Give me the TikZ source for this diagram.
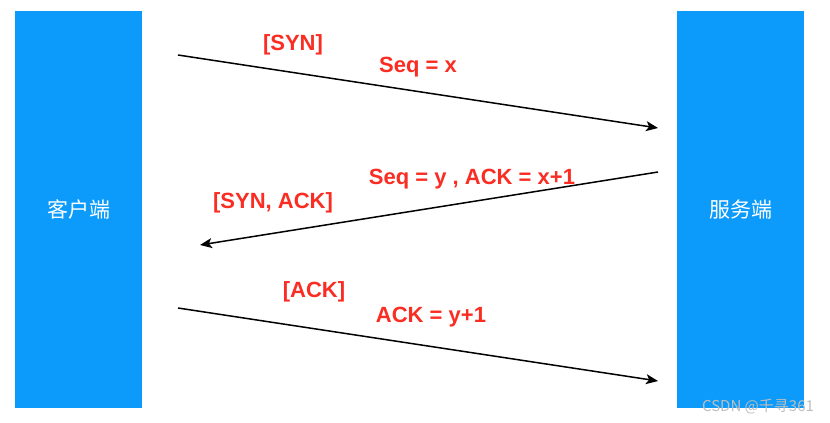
\documentclass[tikz,border=0pt]{standalone}
\usepackage{fontspec}
\setmainfont{Liberation Sans}
\newfontfamily\cjk{Noto Sans CJK SC}
\usetikzlibrary{arrows.meta, positioning}
\definecolor{hostblue}{RGB}{12,155,250}
\definecolor{msgred}{RGB}{250,45,35}
\definecolor{markgray}{RGB}{190,190,190}

\begin{document}
\begin{tikzpicture}[x=1pt, y=-1pt,
        host/.style={fill=hostblue, minimum width=127pt, minimum height=397pt,
                     inner sep=0pt, text=white, font=\cjk\fontsize{21}{23}\selectfont},
        msg/.style={text=msgred, font=\bfseries\fontsize{22}{24}\selectfont, inner sep=1pt},
        arr/.style={-{Stealth[length=12pt, width=10pt, inset=3pt]}, line width=1.5pt}
    ]
        \useasboundingbox (0,0) rectangle (830,423);

        \node[host] (client) at (78.5, 209.5) {客户端};
        \node[host] (server) at (740.5, 209.5) {服务端};

        % handshake ends
        \coordinate (c1) at (178, 55);   \coordinate (s1) at (658, 128);
        \coordinate (s2) at (658, 172);  \coordinate (c2) at (200, 245);
        \coordinate (c3) at (178, 308);  \coordinate (s3) at (658, 381);

        \draw[arr] (c1) -- (s1);
        \draw[arr] (s2) -- (c2);
        \draw[arr] (c3) -- (s3);

        \node[msg] (syn)    at (293, 45)  {[SYN]};
        \node[msg] (seqx)   at (418, 67)  {Seq = x};
        \node[msg] (seqy)   at (472, 179) {Seq = y , ACK = x+1};
        \node[msg] (synack) at (273, 203) {[SYN, ACK]};
        \node[msg] (ack)    at (314, 292) {[ACK]};
        \node[msg] (acky)   at (431, 317) {ACK = y+1};

        \node[text=markgray, font=\cjk\fontsize{15}{17}\selectfont, inner sep=0pt] (mark) at (758, 407) {CSDN @千寻361};
    \end{tikzpicture}
\end{document}
